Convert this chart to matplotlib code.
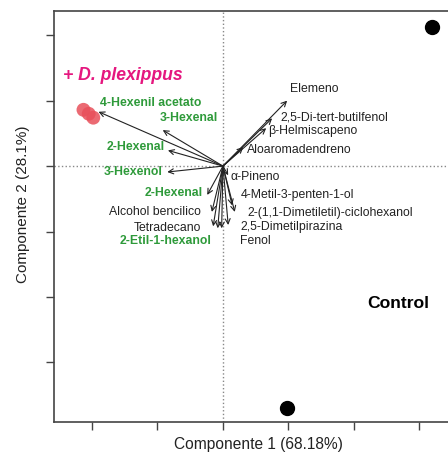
import matplotlib.pyplot as plt
import numpy as np

plt.rcParams['font.family'] = ['Liberation Sans', 'DejaVu Sans']

# scores (PCA) per sample
mon_x = [-2.13, -2.05, -1.98]
mon_y = [0.86, 0.80, 0.74]
ctl_x = [3.19, 0.98]
ctl_y = [2.12, -3.69]

# loadings (arrow tips)
names = ["4-Hexenil acetato", "3-Hexenal", "2-Hexenal", "3-Hexenol", "2-Hexenal",
         "Alcohol bencilico", "Tetradecano", "2-Etil-1-hexanol",
         "Elemeno", "2,5-Di-tert-butilfenol", "\u03b2-Helmiscapeno", "Aloaromadendreno",
         "\u03b1-Pineno", "4-Metil-3-penten-1-ol", "2-(1,1-Dimetiletil)-ciclohexanol",
         "2,5-Dimetilpirazina", "Fenol"]
load_x = [-1.90, -0.92, -0.84, -0.85, -0.24, -0.17, -0.15, -0.08,
          0.98, 0.75, 0.66, 0.31, 0.08, 0.14, 0.18, 0.08, -0.02]
load_y = [0.83, 0.55, 0.24, -0.09, -0.44, -0.70, -0.92, -0.95,
          1.00, 0.73, 0.58, 0.29, -0.14, -0.60, -0.70, -0.90, -0.95]
green = [True, True, True, True, True, False, False, True,
         False, False, False, False, False, False, False, False, False]

# label placement (layout only)
lab_x = [-1.88, -0.08, -0.89, -0.92, -0.31, -0.34, -0.34, -0.17,
         1.02, 0.87, 0.69, 0.37, 0.11, 0.27, 0.37, 0.26, 0.26]
lab_y = [0.97, 0.73, 0.29, -0.09, -0.41, -0.70, -0.95, -1.15,
         1.18, 0.75, 0.53, 0.24, -0.17, -0.44, -0.72, -0.93, -1.15]
lab_ha = ['left', 'right', 'right', 'right', 'right', 'right', 'right', 'right',
          'left', 'left', 'left', 'left', 'left', 'left', 'left', 'left', 'left']

fig = plt.figure(figsize=(4.48, 4.54), dpi=100)
ax = fig.add_axes([54 / 448, 1 - 422 / 454, (462 - 54) / 448, (422 - 11) / 454])

ax.axvline(0, color='#888888', ls=':', lw=1)
ax.axhline(0, color='#888888', ls=':', lw=1)

for i in range(len(names)):
    ax.annotate("", xy=(load_x[i], load_y[i]), xytext=(0, 0),
                arrowprops=dict(arrowstyle='->', color='#222222', lw=0.8,
                                shrinkA=0, shrinkB=0, mutation_scale=9))
    if green[i]:
        ax.text(lab_x[i], lab_y[i], names[i], ha=lab_ha[i], va='center', fontsize=8.8,
                color='#2e9a3a', fontweight='bold')
    else:
        ax.text(lab_x[i], lab_y[i], names[i], ha=lab_ha[i], va='center', fontsize=8.8,
                color='#222222')

ax.scatter(mon_x, mon_y, s=100, color='#e8505b', alpha=0.85, edgecolors='none', zorder=3)
ax.scatter(ctl_x, ctl_y, s=100, color='black', zorder=3)

ax.text(-2.45, 1.38, "+ D. plexippus", color='#e5177f', fontsize=12.7,
        fontstyle='italic', fontweight='bold', va='center')
ax.text(2.20, -2.10, "Control", color='black', fontsize=12.6, fontweight='bold', va='center')

ax.set_xlim(-2.58, 3.65)
ax.set_ylim(-3.91, 2.37)
ax.set_xticks([-2, -1, 0, 1, 2, 3])
ax.set_yticks([-3, -2, -1, 0, 1, 2])
ax.tick_params(labelbottom=False, labelleft=False, direction='out', length=6,
               width=1, color='#444444')
for s in ax.spines.values():
    s.set_color('#444444')
    s.set_linewidth(1.2)

ax.set_xlabel("Componente 1 (68.18%)", fontsize=11.2, color='#222222', labelpad=5)
ax.set_ylabel("Componente 2 (28.1%)", fontsize=11, color='#222222')
ax.yaxis.set_label_coords(-0.06, 0.53)

fig.savefig("out.png", dpi=100)
